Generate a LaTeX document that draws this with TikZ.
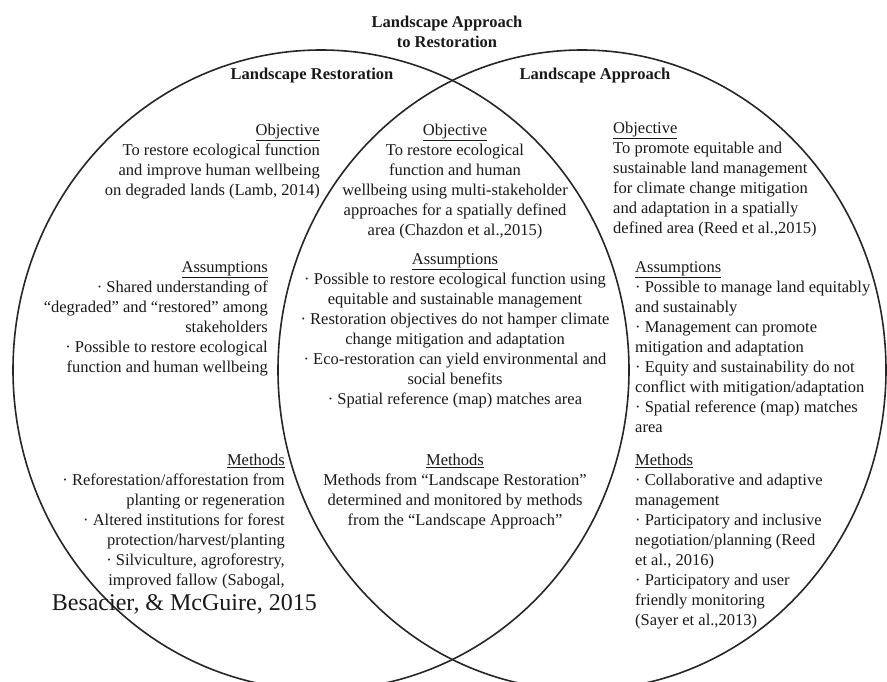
\documentclass[tikz,border=0pt]{standalone}
\usepackage{fontspec}
\setmainfont{Liberation Serif}

\begin{document}
\begin{tikzpicture}[x=1pt, y=-1pt,
    txt/.style={font=\fontsize{16.5}{20}\selectfont, text=black!90, inner sep=0pt},
    bold/.style={txt, font=\fontsize{16.5}{20}\selectfont\bfseries},
    circ/.style={line width=1.6pt, draw=black!85}]

    \useasboundingbox (0,0) rectangle (887,682);
    \clip (0,0) rectangle (887,682);

    % the two circles
    \draw[circ] (321,370) ellipse [x radius=308pt, y radius=320pt];
    \draw[circ] (582,370) ellipse [x radius=304pt, y radius=320pt];

    % headings
    \node[bold, align=center, anchor=north] (title) at (447,15.5) {Landscape Approach\\to Restoration};
    \node[bold, anchor=base] (restor) at (312,80) {Landscape Restoration};
    \node[bold, anchor=base] (approach) at (595,80) {Landscape Approach};

    % left: landscape restoration
    \node[txt, align=right, anchor=north east] (objL) at (320,123.5)
        {\underline{Objective}\\To restore ecological function\\and improve human wellbeing\\on degraded lands (Lamb, 2014)};
    \node[txt, align=right, anchor=north east] (assmL) at (268,261.5)
        {\underline{Assumptions}\\· Shared understanding of\\“degraded” and “restored” among\\stakeholders\\· Possible to restore ecological\\function and human wellbeing};
    \node[txt, align=right, anchor=north east] (methL) at (285,453.5)
        {\underline{Methods}\\· Reforestation/afforestation from\\planting or regeneration\\· Altered institutions for forest\\protection/harvest/planting\\· Silviculture, agroforestry,\\improved fallow (Sabogal,};
    \node[txt, font=\fontsize{24}{26}\selectfont, anchor=base east] (methLend) at (317,610)
        {Besacier, \& McGuire, 2015};

    % middle: overlap
    \node[txt, align=center, anchor=north] (objC) at (455,123.5)
        {\underline{Objective}\\To restore ecological\\function and human\\wellbeing using multi-stakeholder\\approaches for a spatially defined\\area (Chazdon et al.,2015)};
    \node[txt, align=center, anchor=north] (assmC) at (455,253.5)
        {\underline{Assumptions}\\· Possible to restore ecological function using\\equitable and sustainable management\\· Restoration objectives do not hamper climate\\change mitigation and adaptation\\· Eco-restoration can yield environmental and\\social benefits\\· Spatial reference (map) matches area};
    \node[txt, align=center, anchor=north] (methC) at (455,453.5)
        {\underline{Methods}\\Methods from “Landscape Restoration”\\determined and monitored by methods\\from the “Landscape Approach”};

    % right: landscape approach
    \node[txt, align=left, anchor=north west] (objR) at (613,121.5)
        {\underline{Objective}\\To promote equitable and\\sustainable land management\\for climate change mitigation\\and adaptation in a spatially\\defined area (Reed et al.,2015)};
    \node[txt, align=left, anchor=north west] (assmR) at (635,261.5)
        {\underline{Assumptions}\\· Possible to manage land equitably\\and sustainably\\· Management can promote\\mitigation and adaptation\\· Equity and sustainability do not\\conflict with mitigation/adaptation\\· Spatial reference (map) matches\\area};
    \node[txt, align=left, anchor=north west] (methR) at (635,453.5)
        {\underline{Methods}\\· Collaborative and adaptive\\management\\· Participatory and inclusive\\negotiation/planning (Reed\\et al., 2016)\\· Participatory and user\\friendly monitoring\\(Sayer et al.,2013)};

\end{tikzpicture}
\end{document}
